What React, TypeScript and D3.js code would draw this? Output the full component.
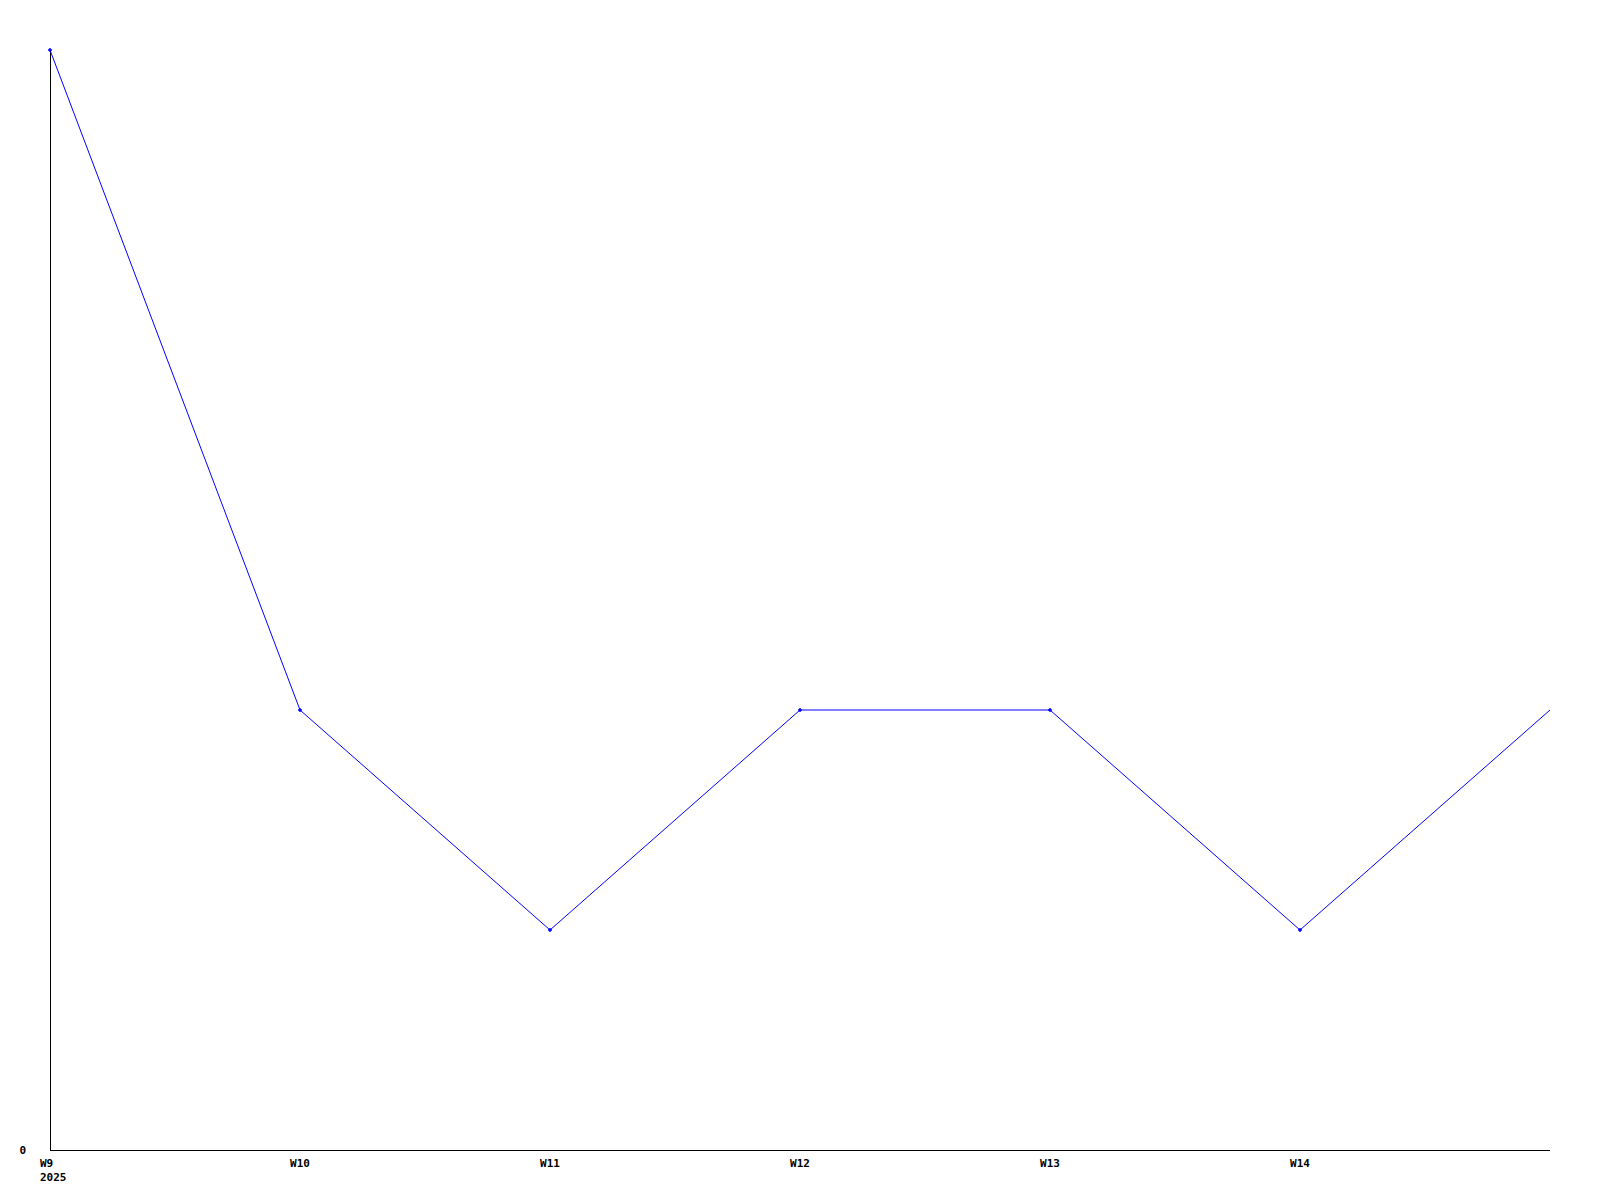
import React from "react";
import * as d3 from "d3";

const weeks = ["W9", "W10", "W11", "W12", "W13", "W14", "W15"];
const values = [5, 2, 1, 2, 2, 1, 2];
const tickLabels = ["W9", "W10", "W11", "W12", "W13", "W14"];
const yearLabel = "2025";
const yTicks = [0];

export default function App() {
  const W = 1600, H = 1200;
  const x = d3.scaleLinear().domain([0, weeks.length - 1]).range([50, 1550]);
  const y = d3.scaleLinear().domain([0, 5]).range([1150, 50]);
  const line = d3.line<number>().x((_, i) => x(i)).y((v) => y(v));
  const font = "'DejaVu Sans Mono', monospace";
  return (
    <svg width={W} height={H} style={{ position: "absolute", left: 0, top: 0, background: "#fff" }}>
      <rect x={0} y={0} width={W} height={H} fill="#fff" />
      <line x1={x(0)} x2={x(0)} y1={y(5)} y2={y(0)} stroke="#000" strokeWidth={1} shapeRendering="crispEdges" />
      <line x1={x(0)} x2={x(weeks.length - 1)} y1={y(0)} y2={y(0)} stroke="#000" strokeWidth={1} shapeRendering="crispEdges" />
      {yTicks.map((t) => (
        <text key={t} x={26} y={y(t) + 4} textAnchor="end" fontFamily={font} fontWeight="bold" fontSize={11} fill="#000">{t}</text>
      ))}
      {tickLabels.map((l, i) => (
        <text key={l} x={i === 0 ? 40 : x(i)} y={1167} textAnchor={i === 0 ? "start" : "middle"} fontFamily={font} fontWeight="bold" fontSize={11} fill="#000">{l}</text>
      ))}
      <text x={40} y={1181} textAnchor="start" fontFamily={font} fontWeight="bold" fontSize={11} fill="#000">{yearLabel}</text>
      <path d={line(values) || ""} fill="none" stroke="#0000ff" strokeWidth={1} />
      {values.slice(0, tickLabels.length).map((v, i) => (
        <path key={i} d={`M${x(i) - 2},${y(v)}H${x(i) + 2}M${x(i)},${y(v) - 2}V${y(v) + 2}`} stroke="#0000ff" strokeWidth={1.5} fill="none" />
      ))}
    </svg>
  );
}
